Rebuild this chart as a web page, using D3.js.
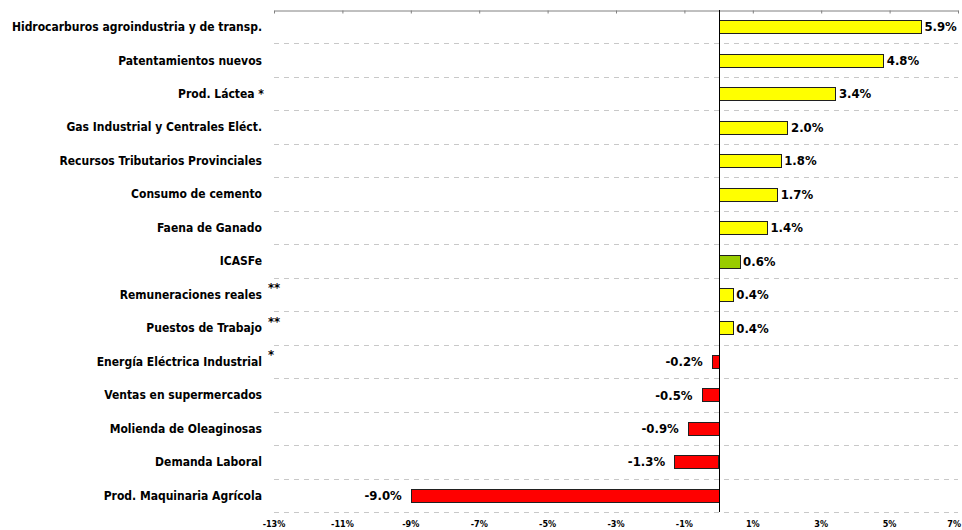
<!DOCTYPE html>
<html>
<head>
<meta charset="utf-8">
<script src="https://cdn.jsdelivr.net/npm/d3@7"></script>
<style>
  body { margin: 0; background: #fff; }
  text { font-family: "DejaVu Sans Condensed", "DejaVu Sans", sans-serif; font-weight: bold; }
</style>
</head>
<body>
<div id="chart"></div>
<script>
var categories = [
  "Hidrocarburos agroindustria y de transp.",
  "Patentamientos nuevos",
  "Prod. Láctea *",
  "Gas Industrial y Centrales Eléct.",
  "Recursos Tributarios Provinciales",
  "Consumo de cemento",
  "Faena de Ganado",
  "ICASFe",
  "Remuneraciones reales",
  "Puestos de Trabajo",
  "Energía Eléctrica Industrial",
  "Ventas en supermercados",
  "Molienda de Oleaginosas",
  "Demanda Laboral",
  "Prod. Maquinaria Agrícola"
];
var values = [5.9, 4.8, 3.4, 2.0, 1.8, 1.7, 1.4, 0.6, 0.4, 0.4, -0.2, -0.5, -0.9, -1.3, -9.0];
var notes = ["", "", "", "", "", "", "", "", "**", "**", "*", "", "", "", ""];
var highlight = "ICASFe";
var tickValues = [-13, -11, -9, -7, -5, -3, -1, 1, 3, 5, 7];

var width = 962, height = 530;
var margin = { top: 10, right: 4, bottom: 18, left: 274 };

var svg = d3.select("#chart").append("svg")
  .attr("width", width)
  .attr("height", height);

var x = d3.scaleLinear()
  .domain([-13, 7])
  .range([margin.left, width - margin.right]);

var y = d3.scaleBand()
  .domain(categories)
  .range([margin.top, height - margin.bottom])
  .padding(0);

var fmt = function(v) { return v.toFixed(1) + "%"; };

// dashed separators between categories
svg.append("g")
  .selectAll("line")
  .data(categories)
  .enter().append("line")
  .attr("x1", x(-13))
  .attr("x2", x(7))
  .attr("y1", function(d) { return Math.round(y(d) + y.bandwidth()) + 0.5; })
  .attr("y2", function(d) { return Math.round(y(d) + y.bandwidth()) + 0.5; })
  .attr("stroke", "#c8c8c8")
  .attr("stroke-dasharray", "5,5");

// top axis line with ticks pointing down
var axisTop = svg.append("g")
  .attr("transform", "translate(0," + (margin.top + 0.5) + ")")
  .call(d3.axisBottom(x).tickValues(tickValues).tickSize(3).tickSizeOuter(0).tickFormat(""));
axisTop.select(".domain").attr("stroke", "#808080");
axisTop.selectAll(".tick line").attr("stroke", "#808080");

// bottom tick labels (kept inside the page)
svg.append("g")
  .selectAll("text")
  .data(tickValues)
  .enter().append("text")
  .attr("y", height - 3)
  .attr("text-anchor", "middle")
  .style("font-size", "9px")
  .attr("fill", "#000")
  .text(function(d) { return d + "%"; })
  .attr("x", function(d) {
    var half = this.getComputedTextLength() / 2;
    return Math.min(x(d), width - 1 - half);
  });

var barH = Math.round(y.bandwidth() * 0.39);

// bars
svg.append("g")
  .selectAll("rect")
  .data(values)
  .enter().append("rect")
  .attr("x", function(d) { return Math.round(x(Math.min(0, d))) + 0.5; })
  .attr("y", function(d, i) { return Math.round(y(categories[i]) + (y.bandwidth() - barH) / 2) + 0.5; })
  .attr("width", function(d) { return Math.round(Math.abs(x(d) - x(0))); })
  .attr("height", barH)
  .attr("fill", function(d, i) {
    if (categories[i] == highlight) return "#99cc00";
    return d < 0 ? "#ff0000" : "#ffff00";
  })
  .attr("stroke", "#202020")
  .attr("stroke-width", 1);

// zero line
svg.append("line")
  .attr("x1", Math.round(x(0)) + 0.5)
  .attr("x2", Math.round(x(0)) + 0.5)
  .attr("y1", margin.top)
  .attr("y2", height - margin.bottom)
  .attr("stroke", "#000");

// value labels
svg.append("g")
  .selectAll("text")
  .data(values)
  .enter().append("text")
  .attr("x", function(d) { return d < 0 ? x(d) - 9 : x(d) + 4; })
  .attr("y", function(d, i) { return y(categories[i]) + y.bandwidth() / 2; })
  .attr("dy", "0.36em")
  .attr("text-anchor", function(d) { return d < 0 ? "end" : "start"; })
  .style("font-size", "13px")
  .attr("fill", "#000")
  .text(fmt);

// category labels
svg.append("g")
  .selectAll("text")
  .data(categories)
  .enter().append("text")
  .attr("x", function(d) { return d.slice(-1) == "*" ? 264 : 262; })
  .attr("y", function(d) { return y(d) + y.bandwidth() / 2; })
  .attr("dy", "0.36em")
  .attr("text-anchor", "end")
  .style("font-size", "12px")
  .attr("fill", "#000")
  .text(function(d) { return d; });

// footnote marks
svg.append("g")
  .selectAll("text")
  .data(notes)
  .enter().append("text")
  .attr("x", 268)
  .attr("y", function(d, i) { return y(categories[i]) + y.bandwidth() / 2 - 2; })
  .style("font-size", "13px")
  .attr("fill", "#000")
  .text(function(d) { return d; });
</script>
</body>
</html>
